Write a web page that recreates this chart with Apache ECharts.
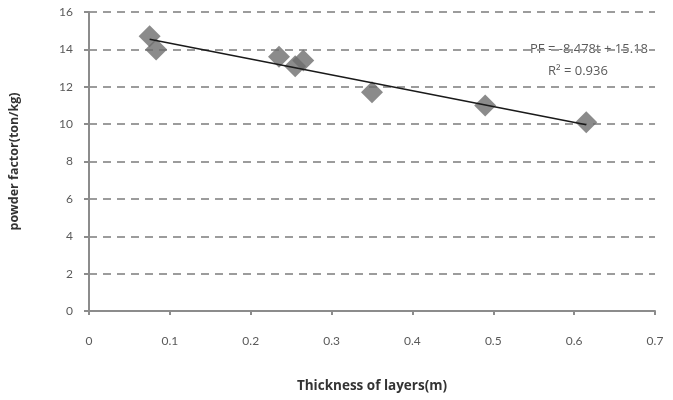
<!DOCTYPE html>
<html>
<head>
<meta charset="utf-8">
<script src="https://cdn.jsdelivr.net/npm/echarts@6/dist/echarts.min.js"></script>
<style>
  html, body { margin: 0; padding: 0; background: #fff; }
  #chart { width: 673px; height: 400px; }
</style>
</head>
<body>
<div id="chart"></div>
<script>
// 层厚 (m) 与 炸药单耗 (ton/kg)
const thickness = [0.075, 0.083, 0.235, 0.255, 0.265, 0.35, 0.49, 0.615]
const powderFactor = [14.7, 14.0, 13.6, 13.1, 13.4, 11.7, 11.0, 10.1]
// 趋势线两端点
const trendX = [0.075, 0.615]
const trendY = [14.54, 9.97]
const equationText = 'PF = -8.478t + 15.18'
const r2Text = 'R² = 0.936'

const chart = echarts.init(document.getElementById('chart'))
const axisColor = '#8c8c8c'
const textColor = '#5a5a5a'
const font = 'Lato, "Open Sans", sans-serif'
const nameFont = '"Open Sans", Lato, sans-serif'

const option = {
  animation: false,
  grid: { left: 89, right: 18, top: 12, bottom: 89 },
  xAxis: {
    type: 'value',
    min: 0,
    max: 0.7,
    interval: 0.1,
    name: 'Thickness of layers(m)',
    nameLocation: 'middle',
    nameGap: 68,
    nameTextStyle: { color: '#333', fontSize: 13.5, fontWeight: 'bold', fontFamily: nameFont },
    axisLine: { show: true, lineStyle: { color: axisColor, width: 2 } },
    axisTick: { show: true, length: 4, lineStyle: { color: axisColor, width: 2 } },
    axisLabel: { color: textColor, fontSize: 12, fontFamily: font, margin: 24 },
    splitLine: { show: false }
  },
  yAxis: {
    type: 'value',
    min: 0,
    max: 16,
    interval: 2,
    name: 'powder factor(ton/kg)',
    nameLocation: 'middle',
    nameGap: 68,
    nameRotate: 90,
    nameTextStyle: { color: '#333', fontSize: 12.5, fontWeight: 'bold', fontFamily: nameFont },
    axisLine: { show: true, lineStyle: { color: axisColor, width: 2 } },
    axisTick: { show: true, inside: false, length: 5, lineStyle: { color: axisColor, width: 2 } },
    axisLabel: { color: textColor, fontSize: 12, fontFamily: font, margin: 16 },
    splitLine: {
      show: true,
      lineStyle: { color: '#9c9c9c', width: 2, type: [8, 6] }
    }
  },
  series: [
    {
      type: 'scatter',
      symbol: 'diamond',
      symbolSize: 22,
      itemStyle: { color: '#6e6e6e' },
      data: thickness.map((t, i) => [t, powderFactor[i]]),
      z: 2
    },
    {
      type: 'line',
      showSymbol: false,
      symbol: 'none',
      lineStyle: { color: '#1a1a1a', width: 1.5 },
      data: trendX.map((t, i) => [t, trendY[i]]),
      z: 3
    }
  ],
  graphic: [
    {
      type: 'text',
      right: 25,
      top: 43,
      style: { text: equationText, fill: textColor, font: '13px "Open Sans", sans-serif' }
    },
    {
      type: 'text',
      left: 548,
      top: 65,
      style: { text: r2Text, fill: textColor, font: '13px "Open Sans", sans-serif' }
    }
  ]
}

chart.setOption(option)
</script>
</body>
</html>
